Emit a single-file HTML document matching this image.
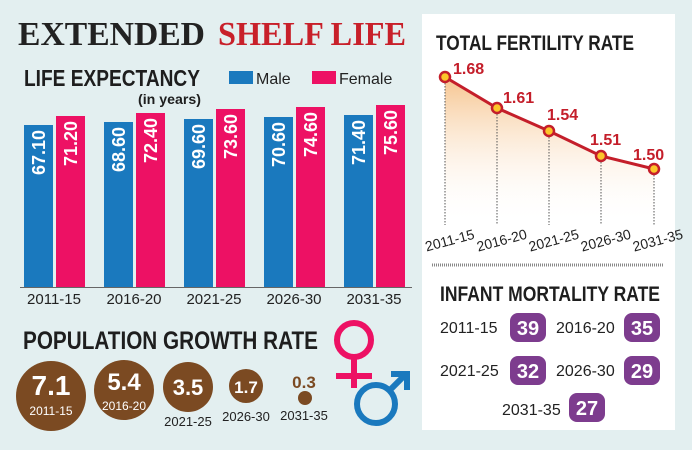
<!DOCTYPE html>
<html><head><style>
body{margin:0;width:692px;height:450px;background:#e3eff0;overflow:hidden}
svg{display:block}
.c{font-family:"Liberation Sans",sans-serif}
.h{font-family:"Liberation Sans",sans-serif;font-weight:bold;fill:#1e1e1e}
</style></head><body>
<svg width="692" height="450" viewBox="0 0 692 450">
<defs>
<linearGradient id="g" x1="0" y1="0" x2="0" y2="1">
<stop offset="0" stop-color="#f6c48e"/><stop offset="1" stop-color="#fff" stop-opacity="0"/>
</linearGradient>
</defs>
<rect x="422" y="14" width="253" height="416" fill="#fff"/>
<text x="18" y="45" font-family="Liberation Serif,serif" font-weight="bold" font-size="34" fill="#222" textLength="187" lengthAdjust="spacingAndGlyphs">EXTENDED</text>
<text x="218" y="45" font-family="Liberation Serif,serif" font-weight="bold" font-size="34" fill="#c8202a" textLength="188" lengthAdjust="spacingAndGlyphs">SHELF LIFE</text>
<text x="24" y="86" class="h" font-size="23" textLength="176" lengthAdjust="spacingAndGlyphs">LIFE EXPECTANCY</text>
<text x="138" y="104" class="h" font-size="14" textLength="63" lengthAdjust="spacingAndGlyphs">(in years)</text>
<rect x="229" y="71" width="24" height="13" fill="#1a79be"/>
<text x="256" y="84" class="c" font-size="16" fill="#222">Male</text>
<rect x="312" y="71" width="24" height="13" fill="#ed1164"/>
<text x="339" y="84" class="c" font-size="16" fill="#222">Female</text>
<g font-family="Liberation Sans,sans-serif" font-weight="bold" font-size="18" fill="#fff">
<rect x="24" y="125" width="29" height="162" fill="#1a79be"/><text transform="translate(45,130) rotate(-90)" text-anchor="end">67.10</text>
<rect x="56" y="116" width="29" height="171" fill="#ed1164"/><text transform="translate(77,121) rotate(-90)" text-anchor="end">71.20</text>
<rect x="104" y="122" width="29" height="165" fill="#1a79be"/><text transform="translate(125,127) rotate(-90)" text-anchor="end">68.60</text>
<rect x="136" y="113" width="29" height="174" fill="#ed1164"/><text transform="translate(157,118) rotate(-90)" text-anchor="end">72.40</text>
<rect x="184" y="119" width="29" height="168" fill="#1a79be"/><text transform="translate(205,124) rotate(-90)" text-anchor="end">69.60</text>
<rect x="216" y="109" width="29" height="178" fill="#ed1164"/><text transform="translate(237,114) rotate(-90)" text-anchor="end">73.60</text>
<rect x="264" y="117" width="29" height="170" fill="#1a79be"/><text transform="translate(285,122) rotate(-90)" text-anchor="end">70.60</text>
<rect x="296" y="107" width="29" height="180" fill="#ed1164"/><text transform="translate(317,112) rotate(-90)" text-anchor="end">74.60</text>
<rect x="344" y="115" width="29" height="172" fill="#1a79be"/><text transform="translate(365,120) rotate(-90)" text-anchor="end">71.40</text>
<rect x="376" y="105" width="29" height="182" fill="#ed1164"/><text transform="translate(397,110) rotate(-90)" text-anchor="end">75.60</text>
</g>
<line x1="20" y1="287.5" x2="412" y2="287.5" stroke="#666" stroke-width="1"/>
<g class="c" font-size="15" fill="#222" text-anchor="middle">
<text x="54" y="304">2011-15</text><text x="134" y="304">2016-20</text><text x="214" y="304">2021-25</text><text x="294" y="304">2026-30</text><text x="374" y="304">2031-35</text>
</g>
<text x="23" y="349" class="h" font-size="25" textLength="295" lengthAdjust="spacingAndGlyphs">POPULATION GROWTH RATE</text>
<g fill="#7b4a22">
<circle cx="51" cy="396" r="35"/><circle cx="124" cy="390" r="30"/><circle cx="188" cy="387" r="25"/><circle cx="246" cy="386" r="17"/><circle cx="305" cy="398" r="7"/>
</g>
<g font-family="Liberation Sans,sans-serif" font-weight="bold" text-anchor="middle" fill="#fff">
<text x="51" y="395" font-size="28">7.1</text><text x="124" y="390" font-size="24">5.4</text><text x="188" y="395" font-size="22">3.5</text><text x="246" y="393" font-size="17">1.7</text>
<text x="304" y="388" font-size="17" fill="#7b4a22">0.3</text>
</g>
<g class="c" text-anchor="middle">
<text x="51" y="415" font-size="12" fill="#fff">2011-15</text><text x="124" y="410" font-size="12" fill="#fff">2016-20</text>
<text x="188" y="426" font-size="13" fill="#222">2021-25</text><text x="246" y="421" font-size="13" fill="#222">2026-30</text><text x="304" y="420" font-size="13" fill="#222">2031-35</text>
</g>
<circle cx="354" cy="340" r="17" fill="none" stroke="#ed1164" stroke-width="6"/>
<line x1="354" y1="357" x2="354" y2="388" stroke="#ed1164" stroke-width="6"/>
<line x1="336" y1="376" x2="372" y2="376" stroke="#ed1164" stroke-width="6"/>
<circle cx="376" cy="404" r="19" fill="none" stroke="#1a79be" stroke-width="6"/>
<line x1="389" y1="391" x2="406" y2="374" stroke="#1a79be" stroke-width="6"/>
<polyline points="391,374 407,374 407,390" fill="none" stroke="#1a79be" stroke-width="6"/>
<text x="436" y="50" class="h" font-size="21" textLength="198" lengthAdjust="spacingAndGlyphs">TOTAL FERTILITY RATE</text>
<polygon points="445,77 497,108 549,131 601,156 654,169 654,225 445,225" fill="url(#g)"/>
<g stroke="#555" stroke-dasharray="1.5,1.5" stroke-width="1">
<line x1="445" y1="77" x2="445" y2="225"/><line x1="497" y1="108" x2="497" y2="225"/><line x1="549" y1="131" x2="549" y2="225"/><line x1="601" y1="156" x2="601" y2="225"/><line x1="654" y1="169" x2="654" y2="225"/>
</g>
<polyline points="445,77 497,108 549,131 601,156 654,169" fill="none" stroke="#c41e2a" stroke-width="3"/>
<g fill="#fcc52a" stroke="#c41e2a" stroke-width="2.5">
<circle cx="445" cy="77" r="5"/><circle cx="497" cy="108" r="5"/><circle cx="549" cy="131" r="5"/><circle cx="601" cy="156" r="5"/><circle cx="654" cy="169" r="5"/>
</g>
<g font-family="Liberation Sans,sans-serif" font-weight="bold" font-size="16" fill="#c41e2a">
<text x="453" y="74">1.68</text><text x="503" y="103">1.61</text><text x="547" y="120">1.54</text><text x="590" y="145">1.51</text><text x="633" y="160">1.50</text>
</g>
<g class="c" font-size="14" fill="#222" text-anchor="middle">
<text transform="translate(451,245) rotate(-15)">2011-15</text><text transform="translate(503,245) rotate(-15)">2016-20</text><text transform="translate(555,245) rotate(-15)">2021-25</text><text transform="translate(607,245) rotate(-15)">2026-30</text><text transform="translate(659,245) rotate(-15)">2031-35</text>
</g>
<line x1="432" y1="265" x2="663" y2="265" stroke="#888" stroke-width="3" stroke-dasharray="1,1"/>
<text x="440" y="301" class="h" font-size="21" textLength="220" lengthAdjust="spacingAndGlyphs">INFANT MORTALITY RATE</text>
<g class="c" font-size="16" fill="#222">
<text x="440" y="333">2011-15</text><text x="556" y="333">2016-20</text>
<text x="440" y="376">2021-25</text><text x="556" y="376">2026-30</text>
<text x="502" y="415">2031-35</text>
</g>
<g fill="#7d3c8e">
<rect x="510" y="313" width="36" height="29" rx="8"/><rect x="624" y="313" width="36" height="29" rx="8"/>
<rect x="510" y="356" width="36" height="29" rx="8"/><rect x="624" y="356" width="36" height="29" rx="8"/>
<rect x="569" y="393" width="36" height="29" rx="8"/>
</g>
<g font-family="Liberation Sans,sans-serif" font-weight="bold" font-size="20" fill="#fff" text-anchor="middle">
<text x="528" y="335">39</text><text x="642" y="335">35</text><text x="528" y="378">32</text><text x="642" y="378">29</text><text x="587" y="415">27</text>
</g>
</svg>
</body></html>
